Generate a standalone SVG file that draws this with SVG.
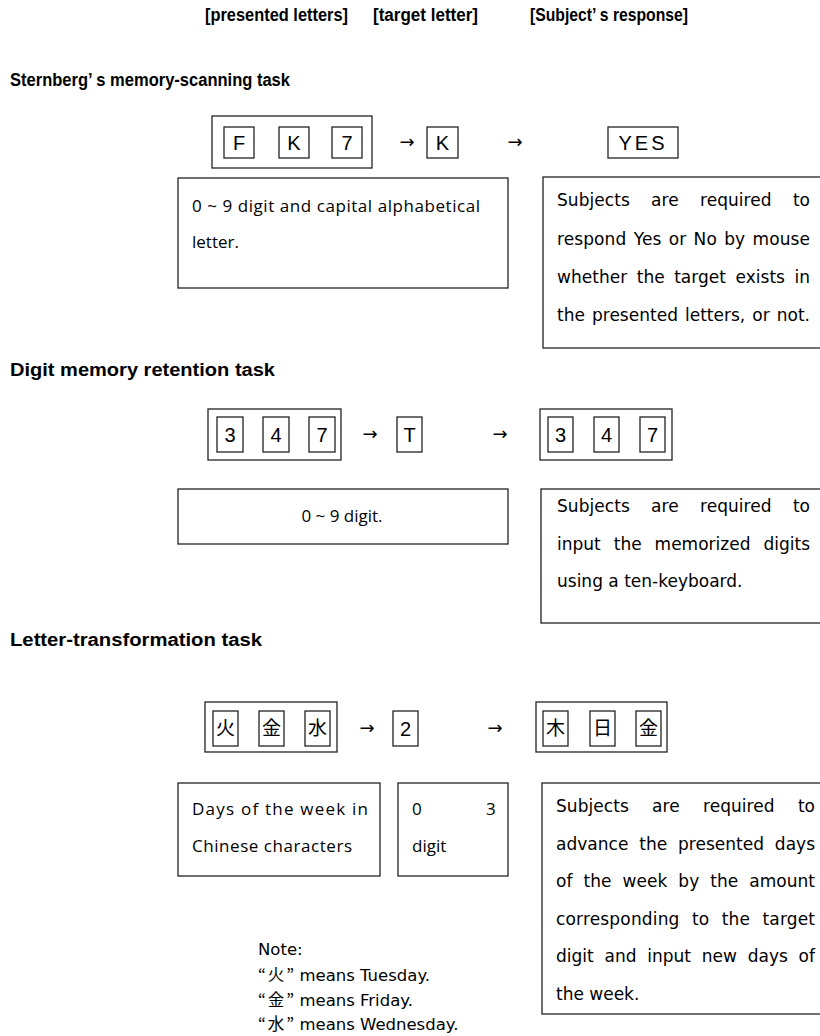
<svg xmlns="http://www.w3.org/2000/svg" width="820" height="1036" viewBox="0 0 820 1036">
<style>
  rect { fill: #fff; stroke: #222; stroke-width: 1.3; }
  .hd { font-family: "Liberation Sans", "Noto Sans CJK JP", sans-serif; font-weight: bold; font-size: 18px; fill: #000; }
  .ch { font-family: "Liberation Sans", "Noto Sans CJK JP", sans-serif; font-size: 20px; fill: #000; text-anchor: middle; }
  .cj { font-family: "Noto Sans CJK JP", sans-serif; font-size: 19px; fill: #000; text-anchor: middle; }
  .ar { font-family: "DejaVu Sans", sans-serif; font-size: 18px; fill: #000; text-anchor: middle; }
  .lt { font-family: "Open Sans", "DejaVu Sans", sans-serif; font-size: 17px; fill: #000; }
  .rt { font-family: "DejaVu Sans", "Noto Sans CJK JP", sans-serif; font-size: 17px; fill: #000; }
  .nt { font-family: "DejaVu Sans", "Noto Sans CJK JP", sans-serif; font-size: 16.5px; fill: #000; }
  .q { font-family: "Noto Sans CJK JP", sans-serif; }
</style>

<g id="headers">
  <text class="hd" x="205" y="21" textLength="143" lengthAdjust="spacingAndGlyphs">[presented letters]</text>
  <text class="hd" x="373" y="21" textLength="105" lengthAdjust="spacingAndGlyphs">[target letter]</text>
  <text class="hd" x="530" y="21" textLength="158" lengthAdjust="spacingAndGlyphs">[Subject’ s response]</text>
  <text class="hd" x="10" y="86" font-size="17" textLength="280" lengthAdjust="spacingAndGlyphs">Sternberg’ s memory-scanning task</text>
  <text class="hd" x="10" y="376" font-size="17" textLength="265" lengthAdjust="spacingAndGlyphs">Digit memory retention task</text>
  <text class="hd" x="10" y="646" font-size="17" textLength="252" lengthAdjust="spacingAndGlyphs">Letter-transformation task</text>
</g>

<!-- Row 1 -->
<g id="r1-presented">
  <rect x="212" y="116" width="160" height="52"/>
  <rect x="224" y="127" width="30" height="31"/>
  <rect x="279" y="127" width="30" height="31"/>
  <rect x="332" y="127" width="30" height="31"/>
  <text class="ch" x="239" y="150">F</text>
  <text class="ch" x="294" y="150">K</text>
  <text class="ch" x="347" y="150">7</text>
</g>
<g id="r1-target">
  <rect x="427" y="127" width="31" height="31"/>
  <text class="ch" x="442.5" y="150">K</text>
</g>
<g id="r1-response">
  <rect x="608" y="127" width="70" height="31"/>
  <text class="ch" x="643" y="150" font-size="18" letter-spacing="3">YES</text>
</g>
<g id="r1-desc-left">
  <rect x="178" y="178" width="330" height="110"/>
  <text class="lt" x="192" y="212" textLength="288" lengthAdjust="spacing">0 ~ 9 digit and capital alphabetical</text>
  <text class="lt" x="192" y="248">letter.</text>
</g>
<g id="r1-desc-right">
  <rect x="543" y="177" width="290" height="171"/>
  <text class="rt" x="557" y="206" word-spacing="15.8" textLength="253" lengthAdjust="spacing">Subjects are required to</text>
  <text class="rt" x="557" y="245" word-spacing="1.8" textLength="253" lengthAdjust="spacing">respond Yes or No by mouse</text>
  <text class="rt" x="557" y="283" word-spacing="4.1" textLength="253" lengthAdjust="spacing">whether the target exists in</text>
  <text class="rt" x="557" y="321" word-spacing="1.6" textLength="253" lengthAdjust="spacing">the presented letters, or not.</text>
</g>

<!-- Row 2 -->
<g id="r2-presented">
  <rect x="208" y="409" width="133" height="51"/>
  <rect x="217" y="417" width="26" height="35"/>
  <rect x="263" y="417" width="26" height="35"/>
  <rect x="309" y="417" width="26" height="35"/>
  <text class="ch" x="230" y="442">3</text>
  <text class="ch" x="276" y="442">4</text>
  <text class="ch" x="322" y="442">7</text>
</g>
<g id="r2-target">
  <rect x="397" y="417" width="25" height="35"/>
  <text class="ch" x="409.5" y="442">T</text>
</g>
<g id="r2-response">
  <rect x="540" y="409" width="132" height="51"/>
  <rect x="548" y="417" width="25" height="35"/>
  <rect x="594" y="417" width="25" height="35"/>
  <rect x="640" y="417" width="25" height="35"/>
  <text class="ch" x="560.5" y="442">3</text>
  <text class="ch" x="606.5" y="442">4</text>
  <text class="ch" x="652.5" y="442">7</text>
</g>
<g id="r2-desc-left">
  <rect x="178" y="489" width="330" height="55"/>
  <text class="lt" x="342" y="522" text-anchor="middle">0 ~ 9 digit.</text>
</g>
<g id="r2-desc-right">
  <rect x="541" y="489" width="290" height="134"/>
  <text class="rt" x="557" y="512" word-spacing="15.8" textLength="253" lengthAdjust="spacing">Subjects are required to</text>
  <text class="rt" x="557" y="550" word-spacing="7.6" textLength="253" lengthAdjust="spacing">input the memorized digits</text>
  <text class="rt" x="557" y="587">using a ten-keyboard.</text>
</g>

<!-- Row 3 -->
<g id="r3-presented">
  <rect x="205" y="702" width="132" height="50"/>
  <rect x="213" y="711" width="25" height="35"/>
  <rect x="259" y="711" width="25" height="35"/>
  <rect x="305" y="711" width="25" height="35"/>
  <text class="cj" x="225.5" y="735">火</text>
  <text class="cj" x="271.5" y="735">金</text>
  <text class="cj" x="317.5" y="735">水</text>
</g>
<g id="r3-target">
  <rect x="393" y="711" width="25" height="35"/>
  <text class="ch" x="405.5" y="736">2</text>
</g>
<g id="r3-response">
  <rect x="536" y="702" width="131" height="50"/>
  <rect x="543" y="711" width="25" height="35"/>
  <rect x="590" y="711" width="25" height="35"/>
  <rect x="636" y="711" width="25" height="35"/>
  <text class="cj" x="555.5" y="735">木</text>
  <text class="cj" x="602.5" y="735">日</text>
  <text class="cj" x="648.5" y="735">金</text>
</g>
<g id="r3-desc-left">
  <rect x="178" y="783" width="202" height="93"/>
  <text class="lt" x="192" y="815" textLength="176" lengthAdjust="spacing">Days of the week in</text>
  <text class="lt" x="192" y="852" textLength="160" lengthAdjust="spacing">Chinese characters</text>
</g>
<g id="r3-desc-mid">
  <rect x="398" y="783" width="110" height="93"/>
  <text class="lt" x="412" y="815">0</text>
  <text class="lt" x="486" y="815">3</text>
  <text class="lt" x="412" y="852">digit</text>
</g>
<g id="r3-desc-right">
  <rect x="542" y="783" width="290" height="231"/>
  <text class="rt" x="556" y="812" word-spacing="17.8" textLength="259" lengthAdjust="spacing">Subjects are required to</text>
  <text class="rt" x="556" y="849.5" word-spacing="5.4" textLength="259" lengthAdjust="spacing">advance the presented days</text>
  <text class="rt" x="556" y="887" word-spacing="5.7" textLength="259" lengthAdjust="spacing">of the week by the amount</text>
  <text class="rt" x="556" y="924.5" word-spacing="6.8" textLength="259" lengthAdjust="spacing">corresponding to the target</text>
  <text class="rt" x="556" y="962" word-spacing="5.4" textLength="259" lengthAdjust="spacing">digit and input new days of</text>
  <text class="rt" x="556" y="999.5">the week.</text>
</g>

<g id="note">
  <text class="nt" x="258" y="955">Note:</text>
  <text class="nt" x="258" y="981"><tspan class="q">“</tspan><tspan class="q" dx="2">火</tspan><tspan class="q" dx="2">”</tspan> means Tuesday.</text>
  <text class="nt" x="258" y="1006"><tspan class="q">“</tspan><tspan class="q" dx="2">金</tspan><tspan class="q" dx="2">”</tspan> means Friday.</text>
  <text class="nt" x="258" y="1030"><tspan class="q">“</tspan><tspan class="q" dx="2">水</tspan><tspan class="q" dx="2">”</tspan> means Wednesday.</text>
</g>

<g id="connectors">
  <text class="ar" x="407" y="148">→</text>
  <text class="ar" x="515" y="148">→</text>
  <text class="ar" x="370" y="440">→</text>
  <text class="ar" x="500" y="440">→</text>
  <text class="ar" x="367" y="734">→</text>
  <text class="ar" x="495" y="734">→</text>
</g>
</svg>
